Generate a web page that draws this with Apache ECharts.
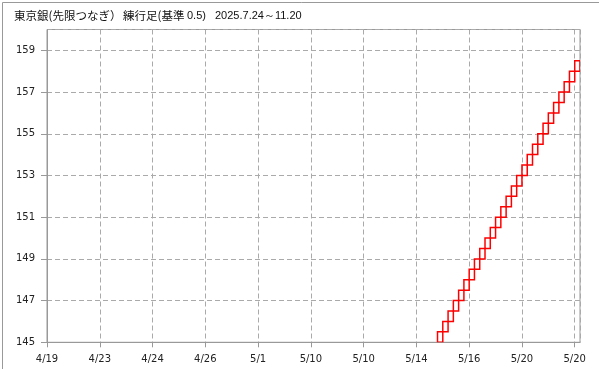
<!DOCTYPE html>
<html>
<head>
<meta charset="utf-8">
<script src="https://cdn.jsdelivr.net/npm/echarts@6/dist/echarts.min.js"></script>
<style>
html,body{margin:0;padding:0;background:#fff;}
#c{width:599px;height:369px;}
</style>
</head>
<body>
<div id="c"></div>
<script>
// Tick labels on the x axis (one every 10 box columns)
var tickLabels = ['4/19','4/23','4/24','4/26','5/1','5/10','5/10','5/14','5/16','5/20','5/20'];
// Total number of box columns on the x axis
var columnCount = 101;
// Column index of the first visible box
var firstColumn = 74;
// Lower edge of each renko box (box size 0.5), all up boxes
var boxLows = [145,145.5,146,146.5,147,147.5,148,148.5,149,149.5,150,150.5,151,151.5,152,152.5,153,153.5,154,154.5,155,155.5,156,156.5,157,157.5,158];
var boxSize = 0.5;
// Y-axis ticks
var yMin = 145, yMax = 160, yInterval = 2;

var data = boxLows.map(function (v, k) { return [firstColumn + k, v]; });

var chart = echarts.init(document.getElementById('c'), null, {renderer: 'canvas'});
var option = {
  animation: false,
  backgroundColor: '#fff',
  grid: {left: 47, right: 19, top: 29.5, bottom: 26.7, show: true, borderColor: '#999', borderWidth: 1},
  xAxis: {
    type: 'value', min: 0, max: columnCount, interval: 10,
    axisLine: {show: true, lineStyle: {color: '#999'}},
    axisTick: {show: true, length: 5, lineStyle: {color: '#999'}},
    axisLabel: {
      margin: 12, color: '#222', fontFamily: 'DejaVu Sans', fontSize: 10,
      showMaxLabel: false,
      formatter: function (v) { var i = Math.round(v / 10); return (v % 10 === 0 && tickLabels[i] !== undefined) ? tickLabels[i] : ''; }
    },
    splitLine: {show: true, lineStyle: {color: '#aaa', type: [5, 3], width: 1}}
  },
  yAxis: {
    type: 'value', min: yMin, max: yMax, interval: yInterval,
    axisLine: {show: true, lineStyle: {color: '#999'}},
    axisTick: {show: true, length: 6, lineStyle: {color: '#999'}},
    axisLabel: {margin: 12, color: '#222', fontFamily: 'DejaVu Sans', fontSize: 10, showMaxLabel: false,
      formatter: function (v) { return (v - yMin) % yInterval === 0 ? String(v) : ''; }},
    splitLine: {show: true, lineStyle: {color: '#aaa', type: [5, 3], width: 1}}
  },
  series: [{
    type: 'custom',
    clip: true,
    data: data,
    renderItem: function (params, api) {
      var x = api.value(0), lo = api.value(1);
      var p0 = api.coord([x, lo]);
      var p1 = api.coord([x + 1, lo + boxSize]);
      return {
        type: 'rect',
        shape: {x: p0[0], y: p1[1], width: p1[0] - p0[0], height: p0[1] - p1[1]},
        style: {fill: 'none', stroke: '#ff0000', lineWidth: 1.5}
      };
    }
  }],
  graphic: [
    {type: 'rect', left: 0, top: 0, shape: {x: 0.5, y: 0.5, width: 598, height: 368}, style: {fill: 'none', stroke: '#999', lineWidth: 1}, silent: true},
    {type: 'text', x: 14, y: 16, style: {text: '東京銀(先限つなぎ）', font: '11.5px "Noto Sans CJK JP"', fill: '#111', textVerticalAlign: 'middle'}},
    {type: 'text', x: 123, y: 16, style: {text: '練行足(基準', font: '11.5px "Noto Sans CJK JP"', fill: '#111', textVerticalAlign: 'middle'}},
    {type: 'text', x: 187, y: 16, style: {text: '0.5)', font: '11px "Liberation Sans"', fill: '#111', textVerticalAlign: 'middle'}},
    {type: 'text', x: 215, y: 16, style: {text: '2025.7.24～11.20', font: '11px "Liberation Sans"', fill: '#111', textVerticalAlign: 'middle'}}
  ]
};
chart.setOption(option);
</script>
</body>
</html>
